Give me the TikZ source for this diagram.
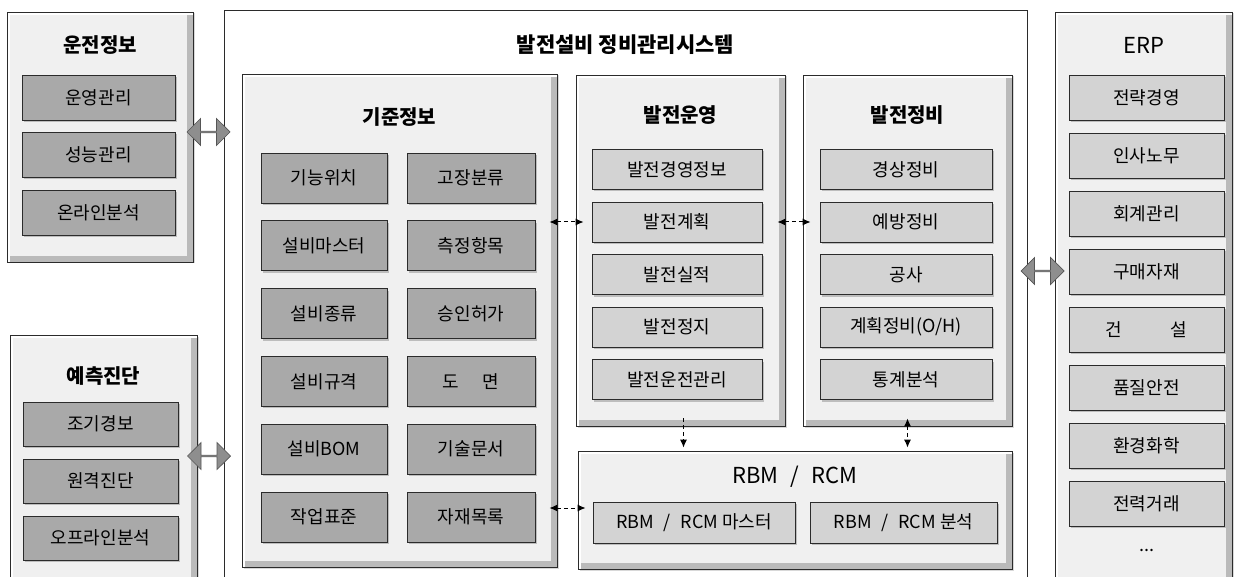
\documentclass[tikz,border=0pt]{standalone}
\usepackage{fontspec}
\setmainfont{Noto Sans CJK KR}
\usetikzlibrary{arrows.meta,shapes.arrows,shadows}

\definecolor{panelfill}{HTML}{F0F0F0}
\definecolor{panelrim}{HTML}{BABABA}
\definecolor{boxdark}{HTML}{A9A9A9}
\definecolor{boxlight}{HTML}{D3D3D3}
\definecolor{arrowfill}{HTML}{8E8E8E}
\definecolor{lineblack}{HTML}{2B2B2B}

\newcommand{\boxsize}{\fontsize{18}{20}\selectfont}
\newcommand{\headsize}{\fontsize{20}{22}\selectfont}
\newcommand{\sep}{\hspace{0.55em}/\hspace{0.55em}}

\tikzset{
	panel/.style={draw=lineblack, line width=0.9pt, fill=panelfill, inner sep=0pt,
		drop shadow={shadow xshift=1.5pt, shadow yshift=-1.5pt, opacity=0.3},
		path picture={
			\draw[panelrim, line width=6pt] ([xshift=-3pt]path picture bounding box.north east) -- ([xshift=-3pt, yshift=3pt]path picture bounding box.south east) -- ([yshift=3pt]path picture bounding box.south west);
			\draw[white, line width=3pt] ([xshift=1.5pt]path picture bounding box.south west) -- ([xshift=1.5pt, yshift=-1.5pt]path picture bounding box.north west) -- ([yshift=-1.5pt]path picture bounding box.north east);
		}},
	mainframe/.style={draw=lineblack, line width=0.9pt, fill=white, inner sep=0pt},
	subdark/.style={draw=lineblack, line width=0.8pt, fill=boxdark, inner sep=0pt, font=\boxsize,
		drop shadow={shadow xshift=2pt, shadow yshift=-2pt, opacity=0.45}},
	sublight/.style={subdark, fill=boxlight},
	headtext/.style={font=\headsize\bfseries, inner sep=0pt},
	latintext/.style={font=\fontsize{22}{24}\selectfont, inner sep=0pt},
	blockarrow/.style={double arrow, draw=lineblack!80, fill=arrowfill, line width=0.7pt, inner sep=0pt,
		minimum height=43pt, minimum width=27pt, double arrow head extend=6pt},
	dasharrow/.style={line width=1pt, dash pattern=on 4pt off 3pt, shorten <=-8pt, shorten >=-8pt,
		{Latex[length=8pt,width=7pt]}-{Latex[length=8pt,width=7pt]}},
	dashto/.style={dasharrow, shorten >=3pt, -{Latex[length=8pt,width=7pt]}}
}

\begin{document}
\begin{tikzpicture}[x=1pt, y=-1pt]
		%%%%% START %%%%%
		\useasboundingbox (0,0) rectangle (1239,577);
		
		% outer frame and panels
		\node[mainframe, minimum width=803pt, minimum height=600pt] (system) at (625.5,310) {};
		\node[panel, minimum width=186pt, minimum height=250pt] (unjeon) at (100,137) {};
		\node[panel, minimum width=187pt, minimum height=270pt] (yecheuk) at (103.5,470) {};
		\node[panel, minimum width=177pt, minimum height=593pt] (erp) at (1143.5,308.5) {};
		\node[panel, minimum width=315pt, minimum height=493pt] (gijun) at (399.5,320.5) {};
		\node[panel, minimum width=209pt, minimum height=351pt] (unyeong) at (680.5,250.5) {};
		\node[panel, minimum width=209pt, minimum height=351pt] (jeongbi) at (907.5,250.5) {};
		\node[panel, minimum width=434pt, minimum height=118pt] (rbm) at (795,510) {};
		
		% titles
		\node[headtext, font=\fontsize{21}{23}\selectfont\bfseries] (systemtitle) at (625.5,45) {발전설비 정비관리시스템};
		\node[headtext] (unjeontitle) at (100,45) {운전정보};
		\node[headtext] (yecheuktitle) at (103.5,376) {예측진단};
		\node[latintext] (erptitle) at (1143.5,45) {ERP};
		\node[headtext] (gijuntitle) at (399.5,117) {기준정보};
		\node[headtext] (unyeongtitle) at (680.5,115) {발전운영};
		\node[headtext] (jeongbititle) at (907.5,115) {발전정비};
		\node[latintext] (rbmtitle) at (795,477) {RBM\sep RCM};
		
		% 운전정보
		\node[subdark, minimum width=153pt, minimum height=45pt] (operate) at (98.5,97.5) {운영관리};
		\node[subdark, minimum width=153pt, minimum height=45pt] (perform) at (98.5,155) {성능관리};
		\node[subdark, minimum width=153pt, minimum height=45pt] (online) at (98.5,212.5) {온라인분석};
		
		% 예측진단
		\node[subdark, minimum width=155pt, minimum height=44pt] (warning) at (100.5,424) {조기경보};
		\node[subdark, minimum width=155pt, minimum height=44pt] (remote) at (100.5,481) {원격진단};
		\node[subdark, minimum width=155pt, minimum height=44pt] (offline) at (100.5,538) {오프라인분석};
		
		% ERP
		\node[sublight, minimum width=155pt, minimum height=45pt] (strategy) at (1146.5,97.5) {전략경영};
		\node[sublight, minimum width=155pt, minimum height=45pt] (personnel) at (1146.5,155.5) {인사노무};
		\node[sublight, minimum width=155pt, minimum height=45pt] (account) at (1146.5,213.5) {회계관리};
		\node[sublight, minimum width=155pt, minimum height=45pt] (purchase) at (1146.5,271.5) {구매자재};
		\node[sublight, minimum width=155pt, minimum height=45pt] (construct) at (1146.5,329.5) {건\hspace{2.7em}설};
		\node[sublight, minimum width=155pt, minimum height=45pt] (quality) at (1146.5,387.5) {품질안전};
		\node[sublight, minimum width=155pt, minimum height=45pt] (environ) at (1146.5,445.5) {환경화학};
		\node[sublight, minimum width=155pt, minimum height=45pt] (trade) at (1146.5,503.5) {전력거래};
		\node[font=\boxsize, inner sep=0pt] (erpmore) at (1146.5,550) {...};
		
		% 기준정보
		\node[subdark, minimum width=126pt, minimum height=50pt] (location) at (324,178) {기능위치};
		\node[subdark, minimum width=128pt, minimum height=50pt] (failure) at (471,178) {고장분류};
		\node[subdark, minimum width=126pt, minimum height=50pt] (master) at (324,245.8) {설비마스터};
		\node[subdark, minimum width=128pt, minimum height=50pt] (measure) at (471,245.8) {측정항목};
		\node[subdark, minimum width=126pt, minimum height=50pt] (kind) at (324,313.6) {설비종류};
		\node[subdark, minimum width=128pt, minimum height=50pt] (approve) at (471,313.6) {승인허가};
		\node[subdark, minimum width=126pt, minimum height=50pt] (spec) at (324,381.4) {설비규격};
		\node[subdark, minimum width=128pt, minimum height=50pt] (drawing) at (471,381.4) {도\hspace{1.3em}면};
		\node[subdark, minimum width=126pt, minimum height=50pt] (bom) at (324,449.2) {설비BOM};
		\node[subdark, minimum width=128pt, minimum height=50pt] (document) at (471,449.2) {기술문서};
		\node[subdark, minimum width=126pt, minimum height=50pt] (standard) at (324,517) {작업표준};
		\node[subdark, minimum width=128pt, minimum height=50pt] (material) at (471,517) {자재목록};
		
		% 발전운영
		\node[sublight, minimum width=170pt, minimum height=40pt] (mgmtinfo) at (677,169.5) {발전경영정보};
		\node[sublight, minimum width=170pt, minimum height=40pt] (plan) at (677,222) {발전계획};
		\node[sublight, minimum width=170pt, minimum height=40pt] (result) at (677,274.5) {발전실적};
		\node[sublight, minimum width=170pt, minimum height=40pt] (outage) at (677,327) {발전정지};
		\node[sublight, minimum width=170pt, minimum height=40pt] (running) at (677,379.5) {발전운전관리};
		
		% 발전정비
		\node[sublight, minimum width=172pt, minimum height=40pt] (routine) at (906,169.5) {경상정비};
		\node[sublight, minimum width=172pt, minimum height=40pt] (prevent) at (906,222) {예방정비};
		\node[sublight, minimum width=172pt, minimum height=40pt] (work) at (906,274.5) {공사};
		\node[sublight, minimum width=172pt, minimum height=40pt] (overhaul) at (906,327) {계획정비(O/H)};
		\node[sublight, minimum width=172pt, minimum height=40pt] (stats) at (906,379.5) {통계분석};
		
		% RBM / RCM
		\node[sublight, minimum width=202pt, minimum height=41pt] (rbmmaster) at (694,522.5) {RBM\sep RCM 마스터};
		\node[sublight, minimum width=187pt, minimum height=41pt] (rbmanalysis) at (903.5,522.5) {RBM\sep RCM 분석};
		
		% links
		\node[blockarrow] (linkunjeon) at (208.5,132) {};
		\node[blockarrow] (linkyecheuk) at (209,456) {};
		\node[blockarrow] (linkerp) at (1042.5,271) {};
		
		\coordinate (rbmlink) at (0,508);
		\draw[dasharrow] (gijun.east |- plan.west) -- (unyeong.west |- plan.west);
		\draw[dasharrow] (unyeong.east |- prevent.west) -- (jeongbi.west |- prevent.west);
		\draw[dasharrow] (gijun.east |- rbmlink) -- (rbm.west |- rbmlink);
		\draw[dashto] ([xshift=3pt]unyeong.south) -- ([xshift=3pt]unyeong.south |- rbm.north);
		\draw[dasharrow, shorten >=3pt] (jeongbi.south) -- (jeongbi.south |- rbm.north);
		
		%%%%% END %%%%%
	\end{tikzpicture}
\end{document}
